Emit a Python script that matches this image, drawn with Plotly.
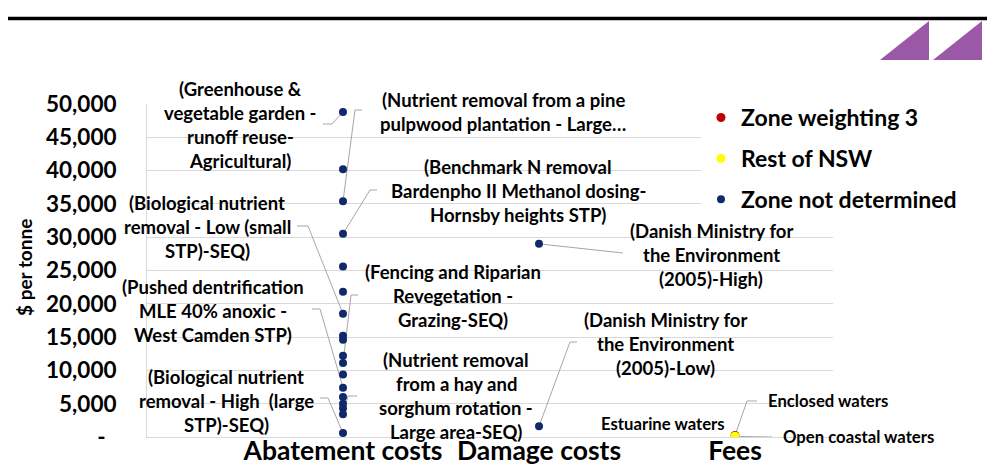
import plotly.graph_objects as go

# categories on the x axis
categories = ["Abatement costs", "Damage costs", "Fees"]
y_ticks = [0, 5000, 10000, 15000, 20000, 25000, 30000, 35000, 40000, 45000, 50000]
y_tick_labels = ["-\u00a0\u00a0", "5,000", "10,000", "15,000", "20,000", "25,000",
                 "30,000", "35,000", "40,000", "45,000", "50,000"]

# $ per tonne
abatement_costs = [48800, 40200, 35400, 30500, 25600, 21800, 18500, 15200, 14600,
                   12200, 11100, 9400, 7400, 6000, 5000, 4300, 3400, 600]
damage_costs = [29000, 1600]
fees_zone_weighting_3 = [220]
fees_rest_of_nsw = [120, 90]

# labels: (series, index, text lines)
labels = [
    ("abatement", 0, ["(Greenhouse &", "vegetable garden -", "runoff reuse-", "Agricultural)"]),
    ("abatement", 2, ["(Nutrient removal from a pine", "pulpwood plantation - Large\u2026"]),
    ("abatement", 3, ["(Benchmark N removal", "Bardenpho II Methanol dosing-", "Hornsby heights STP)"]),
    ("abatement", 6, ["(Biological nutrient", "removal - Low (small", "STP)-SEQ)"]),
    ("abatement", 10, ["(Fencing and Riparian", "Revegetation -", "Grazing-SEQ)"]),
    ("abatement", 12, ["(Pushed dentrification", "MLE 40% anoxic -", "West Camden STP)"]),
    ("abatement", 17, ["(Biological nutrient", "removal - High\u00a0 (large", "STP)-SEQ)"]),
    ("abatement", 16, ["(Nutrient removal", "from a hay and", "sorghum rotation -", "Large area-SEQ)"]),
    ("damage", 0, ["(Danish Ministry for", "the Environment", "(2005)-High)"]),
    ("damage", 1, ["(Danish Ministry for", "the Environment", "(2005)-Low)"]),
]
fee_labels = [
    ("zone3", 0, "Enclosed waters"),
    ("rest", 0, "Estuarine waters"),
    ("rest", 1, "Open coastal waters"),
]

# label placement in window pixels: centre x, first line y, leader start, leader elbow
label_pos = [
    (240, 89, (323, 124), (332, 124)),
    (503, 100, (362, 110), (355, 110)),
    (518, 167, (377, 190), (370, 190)),
    (207, 203, (297, 226), (308, 226)),
    (453, 272, (358, 295), (351, 295)),
    (213, 287, (312, 309), (320, 309)),
    (226, 377, (320, 398), (328, 398)),
    (456, 360, (357, 396), (348, 396)),
    (711, 231, (623, 253), (623, 253)),
    (665, 320, (577, 342), (570, 342)),
]
fee_label_pos = [
    (766, 401, "left", (757, 401), (747, 401)),
    (727, 424, "right", None, None),
    (781, 437, "left", (772, 437), (772, 437)),
]

W, H = 995, 466
OFF = 8  # the page body margin moves the figure 8px right and down
L, R, T, B = 147, 833, 104, 437  # plot area in window pixels
XMAX, YMAX = 3.5, 50000
LINE_GAP = 24


def dx(px):
    return (px - L) / (R - L) * XMAX


def dy(py):
    return (B - py) / (B - T) * YMAX


def paper_x(px):
    return (px - L) / (R - L)


def paper_y(py):
    return (B - py) / (B - T)


font = "Lato, 'Open Sans', sans-serif"
navy = "#10296A"

fig = go.Figure()
fig.add_trace(go.Scatter(x=[3] * len(fees_zone_weighting_3), y=fees_zone_weighting_3,
                         mode="markers", name="<b>Zone weighting 3</b>", legendgroup="a",
                         marker=dict(color="#C00000", size=9)))
fig.add_trace(go.Scatter(x=[3] * len(fees_rest_of_nsw), y=fees_rest_of_nsw,
                         mode="markers", name="<b>Rest of NSW</b>", legendgroup="b",
                         marker=dict(color="#FFFF00", size=9)))
fig.add_trace(go.Scatter(x=[1] * len(abatement_costs) + [2] * len(damage_costs),
                         y=abatement_costs + damage_costs,
                         mode="markers", name="<b>Zone not determined</b>", legendgroup="c",
                         marker=dict(color=navy, size=8)))

series = {"abatement": (1, abatement_costs), "damage": (2, damage_costs),
          "zone3": (3, fees_zone_weighting_3), "rest": (3, fees_rest_of_nsw)}

leader = dict(color="#A6A6A6", width=1)
for (name, idx, lines), (cx, y0, start, elbow) in zip(labels, label_pos):
    for k, line in enumerate(lines):
        fig.add_annotation(x=paper_x(cx), y=paper_y(y0 + k * LINE_GAP), xref="paper", yref="paper",
                           text="<b>" + line + "</b>", showarrow=False, xanchor="center",
                           yanchor="middle", font=dict(family=font, size=18.5, color="black"))
    xv, vals = series[name]
    fig.add_shape(type="path", xref="x", yref="y", layer="between", line=leader,
                  path="M %f,%f L %f,%f L %f,%f" % (dx(start[0]), dy(start[1]), dx(elbow[0]),
                                                    dy(elbow[1]), xv, vals[idx]))

for (name, idx, text), (lx, ly, anchor, start, elbow) in zip(fee_labels, fee_label_pos):
    fig.add_annotation(x=paper_x(lx), y=paper_y(ly), xref="paper", yref="paper",
                       text="<b>" + text + "</b>", showarrow=False, xanchor=anchor,
                       yanchor="middle", font=dict(family=font, size=16.7, color="black"))
    if start is not None:
        xv, vals = series[name]
        fig.add_shape(type="path", xref="x", yref="y", layer="between", line=leader,
                      path="M %f,%f L %f,%f L %f,%f" % (dx(start[0]), dy(start[1]), dx(elbow[0]),
                                                        dy(elbow[1]), xv, vals[idx]))

# y axis title
fig.add_annotation(x=paper_x(24), y=paper_y(268), xref="paper", yref="paper",
                   text="<b>$ per tonne</b>", textangle=-90, showarrow=False,
                   xanchor="center", yanchor="middle",
                   font=dict(family=font, size=19, color="black"))

# page decoration: rule under the title and the purple corner marks
fig.add_shape(type="line", xref="paper", yref="paper", x0=paper_x(OFF), x1=paper_x(W),
              y0=paper_y(18.5), y1=paper_y(18.5), line=dict(color="black", width=3.5))
for x0 in (880, 933):
    fig.add_shape(type="path", xref="paper", yref="paper", line=dict(width=0),
                  fillcolor="#9B58A6",
                  path="M %f,%f L %f,%f L %f,%f Z" % (paper_x(x0), paper_y(60), paper_x(x0 + 49),
                                                      paper_y(60), paper_x(x0 + 49), paper_y(21)))

fig.update_layout(
    width=W, height=H,
    margin=dict(l=L - OFF, r=W - (R - OFF), t=T - OFF, b=H - (B - OFF), autoexpand=False),
    paper_bgcolor="white", plot_bgcolor="white",
    showlegend=True,
    hovermode=False,
    legend=dict(xref="container", yref="container", x=(701 - OFF) / W, y=1 - (96 - OFF) / H,
                xanchor="left", yanchor="top",
                bgcolor="white", traceorder="grouped", tracegroupgap=8,
                font=dict(family=font, size=23, color="black")),
    xaxis=dict(range=[0, XMAX], tickvals=[1, 2, 3], ticktext=["<b>%s</b>" % c for c in categories],
               showgrid=False, zeroline=False, showline=True, linecolor="#D9D9D9",
               ticklen=0, ticklabelstandoff=-10,
               automargin=False, tickfont=dict(family=font, size=26.5, color="black")),
    yaxis=dict(range=[0, YMAX], tickvals=y_ticks, ticktext=["<b>%s</b>" % t for t in y_tick_labels],
               showgrid=True, gridcolor="#D9D9D9", zeroline=False, showline=True,
               linecolor="#D9D9D9", ticklabelstandoff=25, automargin=False,
               tickfont=dict(family=font, size=22.5, color="black")),
)

fig.write_html("out.html")
